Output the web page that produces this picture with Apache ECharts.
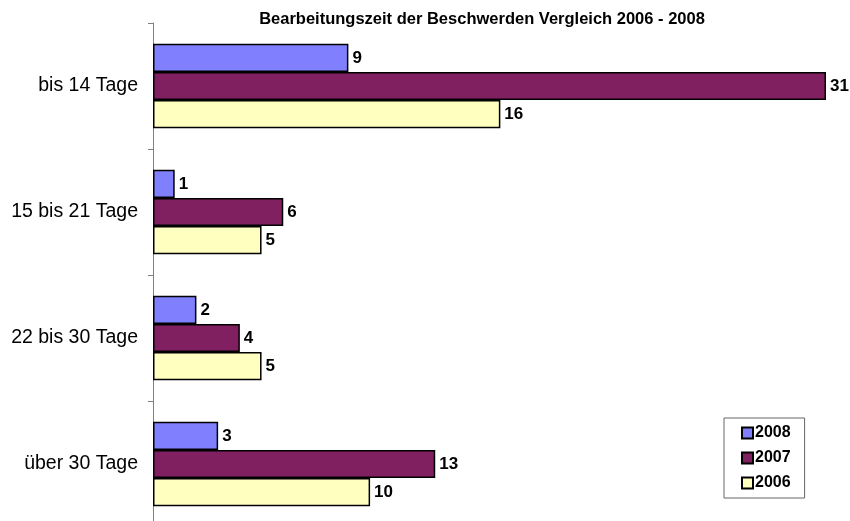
<!DOCTYPE html>
<html>
<head>
<meta charset="utf-8">
<script src="https://cdn.jsdelivr.net/npm/echarts@6/dist/echarts.min.js"></script>
<style>
  html, body { margin: 0; padding: 0; background: #fff; }
  #container { width: 850px; height: 521px; }
</style>
</head>
<body>
<div id="container"></div>
<script>
// chart data
let categories = ['bis 14 Tage', '15 bis 21 Tage', '22 bis 30 Tage', 'über 30 Tage'];
let values2008 = [9, 1, 2, 3];
let values2007 = [31, 6, 4, 13];
let values2006 = [16, 5, 5, 10];

let dom = document.getElementById("container");
let myChart = echarts.init(dom);

let labelStyle = {
    show: true,
    position: 'right',
    distance: 4,
    color: '#000',
    fontFamily: 'Liberation Sans, Arial, sans-serif',
    fontWeight: 'bold',
    fontSize: 17
};

function barSeries(name, data, color) {
    return {
        name: name,
        type: 'bar',
        data: data,
        barGap: '0%',
        barCategoryGap: '33%',
        itemStyle: { color: color, borderColor: '#000', borderWidth: 1.5 },
        label: labelStyle
    };
}

let option = {
    animation: false,
    backgroundColor: '#fff',
    title: {
        text: 'Bearbeitungszeit der Beschwerden Vergleich 2006 - 2008',
        left: 477,
        textAlign: 'center',
        top: 6,
        textStyle: {
            fontFamily: 'Liberation Sans, Arial, sans-serif',
            fontWeight: 'bold',
            fontSize: 16.5,
            color: '#000'
        }
    },
    legend: {
        orient: 'vertical',
        left: 724,
        top: 418,
        data: ['2008', '2007', '2006'],
        icon: 'rect',
        itemWidth: 11,
        itemHeight: 11,
        itemGap: 9,
        padding: [7, 14, 7, 17],
        borderColor: '#666',
        borderWidth: 1,
        backgroundColor: '#fff',
        textStyle: {
            fontFamily: 'Liberation Sans, Arial, sans-serif',
            fontWeight: 'bold',
            fontSize: 16,
            color: '#000',
            padding: [0, 0, 0, -3]
        }
    },
    grid: {
        left: 153,
        right: 24,
        top: 23,
        height: 504,
        outerBoundsMode: 'none'
    },
    xAxis: {
        type: 'value',
        min: 0,
        max: 31,
        show: false
    },
    yAxis: {
        type: 'category',
        data: categories,
        inverse: true,
        axisLine: { lineStyle: { color: '#808080', width: 1 } },
        axisTick: { show: true, length: 5, lineStyle: { color: '#808080' } },
        axisLabel: {
            margin: 15,
            color: '#000',
            fontFamily: 'Liberation Sans, Arial, sans-serif',
            fontSize: 19.5
        },
        splitLine: { show: false }
    },
    series: [
        barSeries('2008', values2008, '#8080FF'),
        barSeries('2007', values2007, '#802060'),
        barSeries('2006', values2006, '#FFFFC0')
    ]
};

myChart.setOption(option, true);
</script>
</body>
</html>
